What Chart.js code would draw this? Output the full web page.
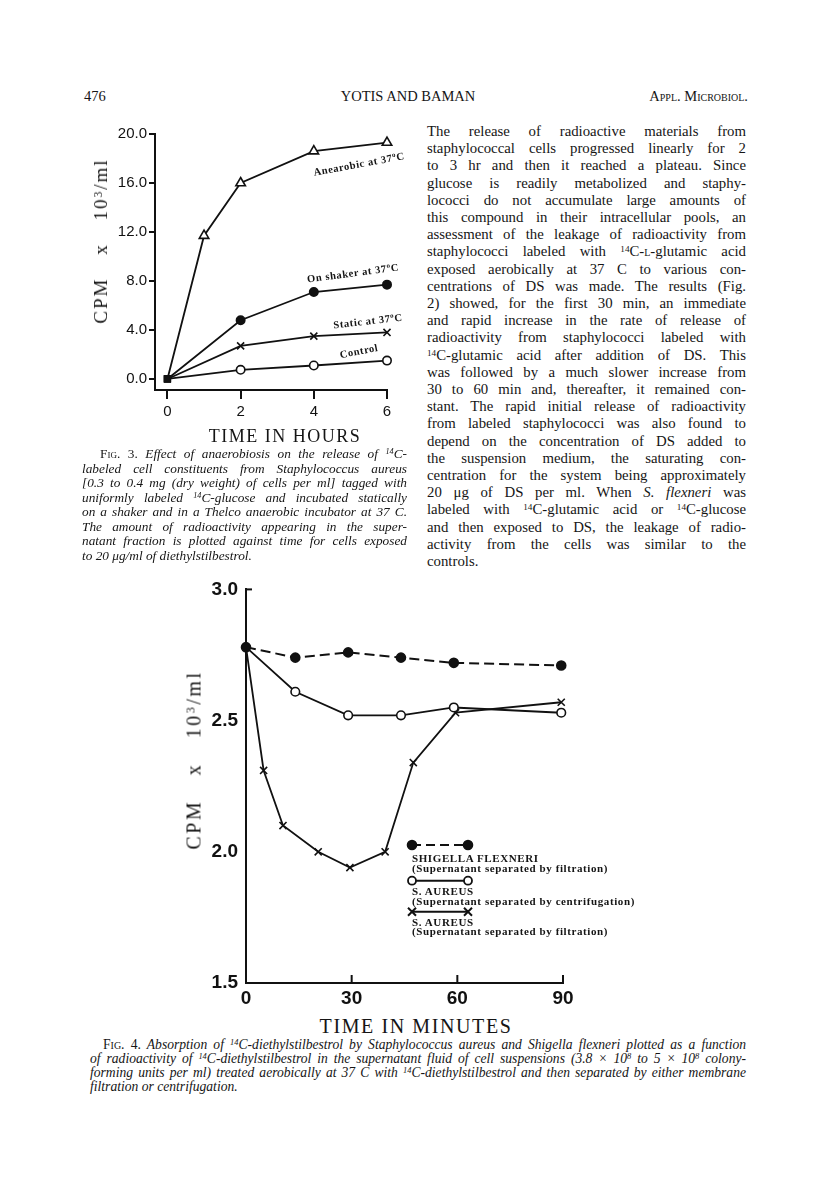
<!DOCTYPE html>
<html>
<head>
<meta charset="utf-8">
<script src="https://cdn.jsdelivr.net/npm/chart.js@4"></script>
<style>
  body { margin: 0; background: #fff; }
  #page { position: relative; width: 816px; height: 1179px; overflow: hidden;
          font-family: 'Liberation Serif', serif; color: #151515; }
  .abs { position: absolute; white-space: nowrap; }
  .lines div { white-space: nowrap; text-align: justify; text-align-last: justify; }
  .lines div.last { text-align-last: left; }
  sup { font-size: .62em; vertical-align: .45em; line-height: 0; }
  .sc { font-variant: small-caps; font-style: normal; }
  .rot { position: absolute; white-space: nowrap; transform-origin: center center; }
  .curve { font: bold 10.5px 'Liberation Serif', serif; letter-spacing: .6px; }
  .curve sup { font-size: 7px; vertical-align: 4px; }
  .ylab { font-size: 19px; letter-spacing: 2px; word-spacing: 16px; }
  .leg { position: absolute; left: 412px; font: bold 11px 'Liberation Serif', serif;
         letter-spacing: .6px; white-space: nowrap; line-height: 10px; }
</style>
</head>
<body>
<div id="page">
  <!-- running head -->
  <div class="abs" style="left:84px;top:88px;font-size:14.5px;line-height:16px;">476</div>
  <div class="abs" style="left:408px;top:88px;font-size:14.5px;line-height:16px;transform:translateX(-50%);">YOTIS AND BAMAN</div>
  <div class="abs" style="right:68px;top:88px;font-size:14.5px;line-height:16px;"><span class="sc">Appl. Microbiol.</span></div>

  <!-- Fig. 3 -->
  <div class="abs" style="left:100px;top:120px;width:300px;height:320px;">
    <canvas id="fig3" width="300" height="320"></canvas>
  </div>
  <div class="rot ylab" style="left:101px;top:241px;transform:translate(-50%,-50%) rotate(-90deg);">CPM x 10<sup>3</sup>/ml</div>
  <div class="rot curve" style="left:359px;top:164px;transform:translate(-50%,-50%) rotate(-10.5deg);">Anearobic at 37<sup>o</sup>C</div>
  <div class="rot curve" style="left:353px;top:273px;transform:translate(-50%,-50%) rotate(-7.5deg);">On shaker at 37<sup>o</sup>C</div>
  <div class="rot curve" style="left:368px;top:321px;transform:translate(-50%,-50%) rotate(-6.5deg);">Static at 37<sup>o</sup>C</div>
  <div class="rot curve" style="left:359px;top:351px;transform:translate(-50%,-50%) rotate(-11deg);">Control</div>
  <div class="abs" style="left:285px;top:436px;transform:translate(-50%,-50%);font-size:18px;letter-spacing:1.5px;">TIME IN HOURS</div>

  <div class="abs lines" style="left:82px;top:447px;width:325px;font-size:13.3px;line-height:14.5px;font-style:italic;">
    <div style="padding-left:18px;"><span class="sc">Fig.</span><span style="font-style:normal"> 3.</span> Effect of anaerobiosis on the release of <sup>14</sup>C-</div>
    <div>labeled cell constituents from Staphylococcus aureus</div>
    <div>[0.3 to 0.4 mg (dry weight) of cells per ml] tagged with</div>
    <div>uniformly labeled <sup>14</sup>C-glucose and incubated statically</div>
    <div>on a shaker and in a Thelco anaerobic incubator at 37 C.</div>
    <div>The amount of radioactivity appearing in the super-</div>
    <div>natant fraction is plotted against time for cells exposed</div>
    <div class="last">to 20 μg/ml of diethylstilbestrol.</div>
  </div>

  <!-- right column text -->
  <div class="abs lines" style="left:427px;top:123px;width:319px;font-size:14.8px;line-height:17.2px;">
    <div>The release of radioactive materials from</div>
    <div>staphylococcal cells progressed linearly for 2</div>
    <div>to 3 hr and then it reached a plateau. Since</div>
    <div>glucose is readily metabolized and staphy-</div>
    <div>lococci do not accumulate large amounts of</div>
    <div>this compound in their intracellular pools, an</div>
    <div>assessment of the leakage of radioactivity from</div>
    <div>staphylococci labeled with <sup>14</sup>C-<span class="sc">l</span>-glutamic acid</div>
    <div>exposed aerobically at 37 C to various con-</div>
    <div>centrations of DS was made. The results (Fig.</div>
    <div>2) showed, for the first 30 min, an immediate</div>
    <div>and rapid increase in the rate of release of</div>
    <div>radioactivity from staphylococci labeled with</div>
    <div><sup>14</sup>C-glutamic acid after addition of DS. This</div>
    <div>was followed by a much slower increase from</div>
    <div>30 to 60 min and, thereafter, it remained con-</div>
    <div>stant. The rapid initial release of radioactivity</div>
    <div>from labeled staphylococci was also found to</div>
    <div>depend on the concentration of DS added to</div>
    <div>the suspension medium, the saturating con-</div>
    <div>centration for the system being approximately</div>
    <div>20 μg of DS per ml. When <i>S. flexneri</i> was</div>
    <div>labeled with <sup>14</sup>C-glutamic acid or <sup>14</sup>C-glucose</div>
    <div>and then exposed to DS, the leakage of radio-</div>
    <div>activity from the cells was similar to the</div>
    <div class="last">controls.</div>
  </div>

  <!-- Fig. 4 -->
  <div class="abs" style="left:180px;top:570px;width:420px;height:440px;">
    <canvas id="fig4" width="420" height="440"></canvas>
  </div>
  <div class="rot ylab" style="left:194px;top:760px;font-size:20px;letter-spacing:2.5px;word-spacing:17px;transform:translate(-50%,-50%) rotate(-90deg);">CPM x 10<sup>3</sup>/ml</div>
  <div class="abs" style="left:416px;top:1026px;transform:translate(-50%,-50%);font-size:20px;letter-spacing:1.6px;">TIME IN MINUTES</div>

  <svg class="abs" style="left:400px;top:835px;" width="80" height="85">
    <g stroke="#111" stroke-width="2" fill="#111">
      <line x1="12" y1="10" x2="68" y2="10" stroke-dasharray="9 5"/>
      <circle cx="12" cy="10" r="4.3"/>
      <circle cx="68" cy="10" r="4.3"/>
      <line x1="12" y1="45.7" x2="68" y2="45.7"/>
      <circle cx="12" cy="45.7" r="4" fill="#fff" stroke-width="1.8"/>
      <circle cx="68" cy="45.7" r="4" fill="#fff" stroke-width="1.8"/>
      <line x1="12" y1="76.7" x2="68" y2="76.7"/>
      <path d="M8 72.7 L16 80.7 M16 72.7 L8 80.7 M64 72.7 L72 80.7 M72 72.7 L64 80.7" fill="none"/>
    </g>
  </svg>
  <div class="leg" style="top:852.7px;">SHIGELLA FLEXNERI</div>
  <div class="leg" style="top:862.7px;">(Supernatant separated by filtration)</div>
  <div class="leg" style="top:886px;">S. AUREUS</div>
  <div class="leg" style="top:896px;">(Supernatant separated by centrifugation)</div>
  <div class="leg" style="top:916.7px;">S. AUREUS</div>
  <div class="leg" style="top:926px;">(Supernatant separated by filtration)</div>

  <div class="abs lines" style="left:90px;top:1038px;width:656px;font-size:13.6px;line-height:14px;font-style:italic;">
    <div style="padding-left:13px;"><span class="sc">Fig.</span><span style="font-style:normal"> 4.</span> Absorption of <sup>14</sup>C-diethylstilbestrol by Staphylococcus aureus and Shigella flexneri plotted as a function</div>
    <div>of radioactivity of <sup>14</sup>C-diethylstilbestrol in the supernatant fluid of cell suspensions (3.8 × 10<sup>8</sup> to 5 × 10<sup>8</sup> colony-</div>
    <div>forming units per ml) treated aerobically at 37 C with <sup>14</sup>C-diethylstilbestrol and then separated by either membrane</div>
    <div class="last">filtration or centrifugation.</div>
  </div>
</div>

<script>
// ---- Fig. 3 data (hours, CPM x 10^3/ml) ----
const hoursAnaerobic = [0, 1, 2, 4, 6];
const anaerobic = [0, 11.7, 16.0, 18.6, 19.3];
const hours = [0, 2, 4, 6];
const onShaker = [0, 4.8, 7.1, 7.7];
const staticCells = [0, 2.7, 3.5, 3.8];
const control = [0, 0.75, 1.1, 1.5];
const hourTicks = [0, 2, 4, 6];
const cpmTicks3 = [0, 4, 8, 12, 16, 20];

// ---- Fig. 4 data (minutes, CPM x 10^3/ml) ----
const minShigella = [0, 14, 29, 44, 59, 89.5];
const shigella = [2.78, 2.74, 2.76, 2.74, 2.72, 2.71];
const minCentrif = [0, 14, 29, 44, 59, 89.5];
const aureusCentrif = [2.78, 2.61, 2.52, 2.52, 2.55, 2.53];
const minFiltr = [0, 5, 10.5, 20.5, 29.5, 39.5, 47.5, 59.5, 89.5];
const aureusFiltr = [2.78, 2.31, 2.10, 2.00, 1.94, 2.00, 2.34, 2.53, 2.57];
const minuteTicks = [0, 30, 60, 90];
const cpmTicks4 = [1.5, 2.0, 2.5, 3.0];

const INK = '#111';
const pts = (xs, ys) => xs.map((x, i) => ({ x, y: ys[i] }));

function series(xs, ys, style, fill, extra) {
  return Object.assign({
    data: pts(xs, ys),
    borderColor: INK,
    borderWidth: 1.8,
    pointStyle: xs.map((x, i) => (i === 0 ? 'rect' : style)),
    pointBackgroundColor: xs.map((x, i) => (i === 0 ? INK : fill)),
    pointBorderColor: INK,
    pointBorderWidth: 1.6,
    pointRadius: xs.map((x, i) => (i === 0 ? 4 : (style === 'triangle' ? 5.5 : 4.2))),
    clip: false,
    tension: 0,
  }, extra || {});
}

// inward tick marks (Fig. 4 draws them on the inside of the axes)
const innerTicks = {
  id: 'innerTicks',
  afterDraw(chart, args, opts) {
    const { ctx, scales: { x, y } } = chart;
    ctx.save();
    ctx.strokeStyle = INK;
    ctx.lineWidth = 2;
    opts.x.forEach(v => {
      const px = x.getPixelForValue(v);
      ctx.beginPath(); ctx.moveTo(px, y.bottom); ctx.lineTo(px, y.bottom - opts.len); ctx.stroke();
    });
    opts.y.forEach(v => {
      const py = y.getPixelForValue(v);
      ctx.beginPath(); ctx.moveTo(x.left, py); ctx.lineTo(x.left + opts.len - 2, py); ctx.stroke();
    });
    ctx.restore();
  },
};

new Chart(document.getElementById('fig3'), {
  type: 'line',
  data: {
    datasets: [
      series(hoursAnaerobic, anaerobic, 'triangle', '#fff'),
      series(hours, onShaker, 'circle', INK),
      series(hours, staticCells, 'crossRot', '#fff', { pointRadius: hours.map((h, i) => (i === 0 ? 4 : 5)) }),
      series(hours, control, 'circle', '#fff'),
    ],
  },
  options: {
    responsive: false,
    animation: false,
    layout: { padding: { top: 14, right: 13, bottom: 20, left: 0 } },
    plugins: { legend: { display: false }, tooltip: { enabled: false } },
    scales: {
      x: {
        type: 'linear', min: -0.34, max: 6,
        afterBuildTicks: s => { s.ticks = hourTicks.map(v => ({ value: v })); },
        afterFit: s => { s.height = 30; },
        border: { display: true, color: INK, width: 2 },
        grid: { drawOnChartArea: false, drawTicks: true, tickLength: 9, color: INK, lineWidth: 2 },
        ticks: { autoSkip: false, maxRotation: 0, padding: 4, color: INK,
                 font: { family: "'Liberation Sans', sans-serif", size: 15 } },
      },
      y: {
        type: 'linear', min: -0.9, max: 20,
        afterBuildTicks: s => { s.ticks = cpmTicks3.map(v => ({ value: v })); },
        afterFit: s => { s.width = 55; },
        border: { display: true, color: INK, width: 2 },
        grid: { drawOnChartArea: false, drawTicks: true, tickLength: 6, color: INK, lineWidth: 2 },
        ticks: { autoSkip: false, padding: 2, color: INK, callback: v => v.toFixed(1),
                 font: { family: "'Liberation Sans', sans-serif", size: 15 } },
      },
    },
  },
});

new Chart(document.getElementById('fig4'), {
  type: 'line',
  plugins: [innerTicks],
  data: {
    datasets: [
      series(minShigella, shigella, 'circle', INK, {
        borderDash: [10, 5], borderWidth: 2,
        pointStyle: 'circle', pointBackgroundColor: INK, pointRadius: 4.5,
      }),
      series(minCentrif, aureusCentrif, 'circle', '#fff', {
        pointRadius: minCentrif.map((m, i) => (i === 0 ? 0 : 4.3)),
      }),
      series(minFiltr, aureusFiltr, 'crossRot', '#fff', {
        pointRadius: minFiltr.map((m, i) => (i === 0 ? 0 : 5)),
      }),
    ],
  },
  options: {
    responsive: false,
    animation: false,
    layout: { padding: { top: 18, right: 37, bottom: 0, left: 0 } },
    plugins: {
      legend: { display: false }, tooltip: { enabled: false },
      innerTicks: { x: [30, 60, 90], y: [3.0], len: 8 },
    },
    scales: {
      x: {
        type: 'linear', min: 0, max: 90,
        afterBuildTicks: s => { s.ticks = minuteTicks.map(v => ({ value: v })); },
        afterFit: s => { s.height = 27; },
        border: { display: true, color: INK, width: 2 },
        grid: { display: false, drawTicks: false },
        ticks: { autoSkip: false, maxRotation: 0, padding: 4, color: INK,
                 font: { family: "'Liberation Sans', sans-serif", size: 19, weight: 'bold' } },
      },
      y: {
        type: 'linear', min: 1.5, max: 3.0,
        afterBuildTicks: s => { s.ticks = cpmTicks4.map(v => ({ value: v })); },
        afterFit: s => { s.width = 66; },
        border: { display: true, color: INK, width: 2 },
        grid: { display: false, drawTicks: false },
        ticks: { autoSkip: false, padding: 8, color: INK, callback: v => v.toFixed(1),
                 font: { family: "'Liberation Sans', sans-serif", size: 19, weight: 'bold' } },
      },
    },
  },
});
</script>
</body>
</html>
